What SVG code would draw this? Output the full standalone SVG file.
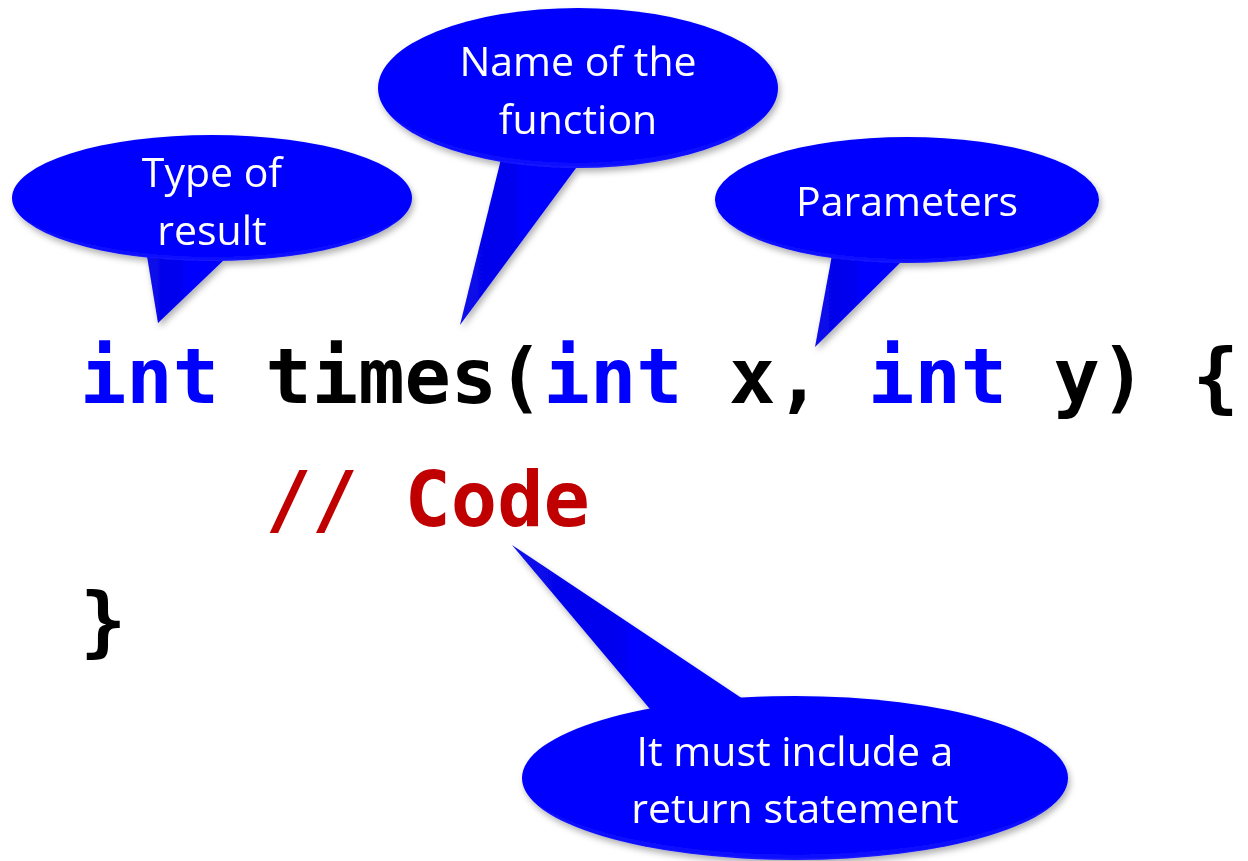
<svg xmlns="http://www.w3.org/2000/svg" width="1248" height="861" viewBox="0 0 1248 861">
<defs>
<radialGradient id="bub" cx="0.5" cy="0.45" r="0.56">
<stop offset="0.9" stop-color="#0000FF"/>
<stop offset="1" stop-color="#1c1cff"/>
</radialGradient>
<linearGradient id="tail" x1="0" y1="0" x2="1" y2="0">
<stop offset="0" stop-color="#0a0ae8"/>
<stop offset="0.45" stop-color="#0000F0"/>
<stop offset="0.5" stop-color="#0000FF"/>
<stop offset="1" stop-color="#0000FF"/>
</linearGradient>
<filter id="sh" x="-10%" y="-10%" width="120%" height="130%">
<feDropShadow dx="2" dy="4" stdDeviation="3" flood-color="#000" flood-opacity="0.3"/>
</filter>
<style>
.bt{font-family:"Open Sans","Noto Sans",sans-serif;font-size:41px;fill:#fff;text-anchor:middle}
.code{font-family:"DejaVu Sans Mono","Liberation Mono",monospace;font-weight:bold;font-size:77px;white-space:pre}
.kw{fill:#0000FF}.bk{fill:#000}.cm{fill:#C00000}
</style>
</defs>
<g id="connectors"/>
<g id="code">
<text class="code" x="80" y="403" xml:space="preserve"><tspan class="kw">int</tspan><tspan class="bk"> times(</tspan><tspan class="kw">int</tspan><tspan class="bk"> x, </tspan><tspan class="kw">int</tspan><tspan class="bk"> y) {</tspan></text>
<text class="code cm" x="80" y="526" xml:space="preserve">    // Code</text>
<text class="code bk" x="80" y="647">}</text>
</g>
<g id="callout-type" filter="url(#sh)">
<polygon points="146,250 158,323 226,258" fill="url(#tail)"/>
<ellipse cx="212" cy="198" rx="200" ry="63" fill="url(#bub)"/>
<text class="bt" x="212" y="187">Type of</text>
<text class="bt" x="212" y="245">result</text>
</g>
<g id="callout-name" filter="url(#sh)">
<polygon points="502,155 460,325 582,160" fill="url(#tail)"/>
<ellipse cx="578" cy="88" rx="200" ry="80" fill="url(#bub)"/>
<text class="bt" x="578" y="76">Name of the</text>
<text class="bt" x="578" y="134">function</text>
</g>
<g id="callout-params" filter="url(#sh)">
<polygon points="832,255 815,347 905,258" fill="url(#tail)"/>
<ellipse cx="907" cy="200" rx="192" ry="63" fill="url(#bub)"/>
<text class="bt" x="907" y="216">Parameters</text>
</g>
<g id="callout-return" filter="url(#sh)">
<polygon points="512,545 655,715 752,705" fill="url(#tail)"/>
<ellipse cx="795" cy="778" rx="273" ry="82" fill="url(#bub)"/>
<text class="bt" x="795" y="766">It must include a</text>
<text class="bt" x="795" y="823">return statement</text>
</g>
</svg>
